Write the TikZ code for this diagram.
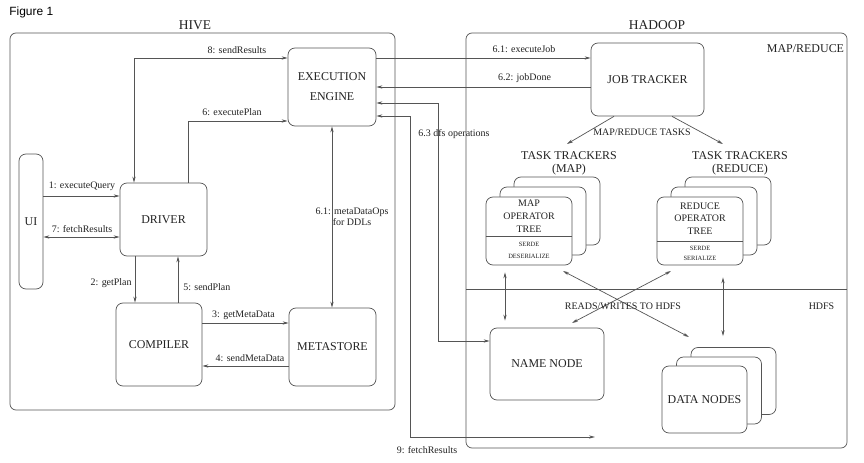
\documentclass[tikz,border=0pt]{standalone}
\usepackage{fontspec}
\setmainfont{Liberation Serif}
\newfontfamily\figsans{Liberation Sans}
\usetikzlibrary{arrows.meta}
\definecolor{ln}{HTML}{555555}
\definecolor{tx}{HTML}{222222}
\begin{document}
\begin{tikzpicture}[x=1bp,y=-1bp, line width=0.7bp,
  >={Stealth[length=6bp,width=3.2bp]},
  box/.style={draw=ln, rounded corners=7bp, inner sep=0pt, text=tx, font=\fontsize{12}{14}\selectfont},
  stack/.style={box, fill=white, minimum width=86bp, minimum height=68bp},
  lbl/.style={text=tx, font=\fontsize{10}{12}\selectfont, inner sep=1bp},
  big/.style={text=tx, font=\fontsize{12}{13}\selectfont, inner sep=1bp, align=center},
  conn/.style={draw=ln}]
\useasboundingbox (0,0) rectangle (864,463);
\fill[white] (0,0) rectangle (864,463);

% containers
\draw[ln, rounded corners=6bp] (10,33) rectangle (395,410);
\draw[ln, rounded corners=6bp] (466,33) rectangle (847,448);
\draw[ln] (466,289) -- (847,289);

\node[anchor=west, inner sep=0pt, font=\figsans\fontsize{12}{14}\selectfont] (fig) at (9,12) {Figure 1};
\node[text=tx, font=\fontsize{13.5}{16}\selectfont] (hive) at (195,25) {HIVE};
\node[text=tx, font=\fontsize{13.5}{16}\selectfont] (hadoop) at (657,25) {HADOOP};
\node[big] (mr) at (805.5,49) {MAP/REDUCE};
\node[lbl] (hdfs) at (821.5,306) {HDFS};

% HIVE nodes
\node[box, minimum width=24bp, minimum height=135bp] (ui) at (31,221.5) {UI};
\node[box, minimum width=87bp, minimum height=73bp] (driver) at (163.5,219.5) {DRIVER};
\node[box, minimum width=86bp, minimum height=83bp] (compiler) at (159,344.5) {COMPILER};
\node[box, minimum width=87bp, minimum height=78bp] (meta) at (332.5,347) {METASTORE};
\node[box, minimum width=88bp, minimum height=78bp, align=center, font=\fontsize{12}{20}\selectfont] (ee) at (332,87) {EXECUTION\\ENGINE};

% HADOOP nodes
\node[box, minimum width=113bp, minimum height=73bp] (jt) at (647.5,79.5) {JOB TRACKER};
\node[box, minimum width=114bp, minimum height=72bp] (nn) at (547,364) {NAME NODE};

\node[big] (ttmap) at (569,163.5) {TASK TRACKERS\\(MAP)};
\node[big] (ttred) at (740,163.5) {TASK TRACKERS\\(REDUCE)};

\node[stack] (mapb) at (557,211) {};
\node[stack] (mapm) at (543,221) {};
\node[stack] (mapf) at (529,231) {};
\draw[ln] (mapf.west |- 0,236) -- (mapf.east |- 0,236);
\node[lbl, align=center, font=\fontsize{10}{13}\selectfont] (maptxt) at (529,216) {MAP\\OPERATOR\\TREE};
\node[lbl, align=center, font=\fontsize{6.5}{12}\selectfont] (mapserde) at (529,250.5) {SERDE\\DESERIALIZE};

\node[stack] (redb) at (728,211) {};
\node[stack] (redm) at (714,221) {};
\node[stack] (redf) at (700,231) {};
\draw[ln] (redf.west |- 0,241) -- (redf.east |- 0,241);
\node[lbl, align=center, font=\fontsize{10}{12.5}\selectfont] (redtxt) at (700,218.5) {REDUCE\\OPERATOR\\TREE};
\node[lbl, align=center, font=\fontsize{6.5}{10}\selectfont] (redserde) at (700,253.5) {SERDE\\SERIALIZE};

\node[stack, minimum width=85bp, minimum height=67bp] (dnb) at (733.5,381) {};
\node[stack, minimum width=85bp, minimum height=67bp] (dnm) at (719,390.5) {};
\node[stack, minimum width=85bp, minimum height=67bp] (dnf) at (704.5,399.5) {DATA NODES};

% HIVE connectors
\draw[conn,->] (ui.east |- 0,196) -- (driver.west |- 0,196);
\node[lbl] (l1) at (82,186) {1: executeQuery};
\draw[conn,<->] (ui.east |- 0,237) -- (driver.west |- 0,237);
\node[lbl] (l7) at (82,229) {7: fetchResults};
\draw[conn,->] (driver.south -| 135,0) -- (compiler.north -| 135,0);
\node[lbl, anchor=east] (l2) at (133,283) {2: getPlan};
\draw[conn,->] (compiler.north -| 178,0) -- (driver.south -| 178,0);
\node[lbl, anchor=west] (l5) at (182,287) {5: sendPlan};
\draw[conn,->] (compiler.east |- 0,323) -- (meta.west |- 0,323);
\node[lbl] (l3) at (243.5,315) {3: getMetaData};
\draw[conn,->] (meta.west |- 0,366) -- (compiler.east |- 0,366);
\node[lbl] (l4) at (250,358) {4: sendMetaData};
\draw[conn,<->] (ee.south -| 332,0) -- (meta.north -| 332,0);
\node[lbl, align=center, font=\fontsize{10}{11.5}\selectfont] (l61m) at (352,216.5) {6.1: metaDataOps\\for DDLs};
\draw[conn,<->] (driver.north -| 134,0) |- (ee.west |- 0,58);
\node[lbl] (l8) at (237,50.5) {8: sendResults};
\draw[conn,->] (driver.north -| 188,0) |- (ee.west |- 0,121);
\node[lbl] (l6) at (232,112.5) {6: executePlan};

% HIVE <-> HADOOP connectors
\draw[conn,->] (ee.east |- 0,58) -- (jt.west |- 0,58);
\node[lbl] (l61j) at (524,49.5) {6.1: executeJob};
\draw[conn,->] (jt.west |- 0,87) -- (ee.east |- 0,87);
\node[lbl] (l62) at (524.5,78.5) {6.2: jobDone};
\draw[conn,<->] (ee.east |- 0,103) -| (438,341) -- (nn.west |- 0,341);
\node[lbl] (l63) at (454,134.5) {6.3 dfs operations};
\coordinate (f9) at (595,437);
\draw[conn,<->] (ee.east |- 0,116) -| (410,437) -- (f9);
\node[lbl] (l9) at (427,450.5) {9: fetchResults};

% map/reduce tasks
\coordinate (tmA) at (567,144);
\coordinate (tmB) at (723,144);
\draw[conn,->] (jt.south -| 614,0) -- (tmA);
\draw[conn,->] (jt.south -| 672,0) -- (tmB);
\node[lbl] (lmr) at (642,132) {MAP/REDUCE TASKS};

% HDFS connectors
\draw[conn,<->, shorten <=7bp, shorten >=7bp] (mapf.south -| 505,0) -- (nn.north -| 505,0);
\draw[conn,<->, shorten <=12bp, shorten >=11bp] (redf.south -| 723,0) -- (dnb.north -| 723,0);
\coordinate (x1a) at (563,271);
\coordinate (x1b) at (689,337);
\coordinate (x2a) at (671,271);
\coordinate (x2b) at (572,323);
\draw[conn,<->] (x1a) -- (x1b);
\draw[conn,<->] (x2a) -- (x2b);
\node[lbl] (lrw) at (623,306) {READS/WRITES TO HDFS};
\end{tikzpicture}
\end{document}
